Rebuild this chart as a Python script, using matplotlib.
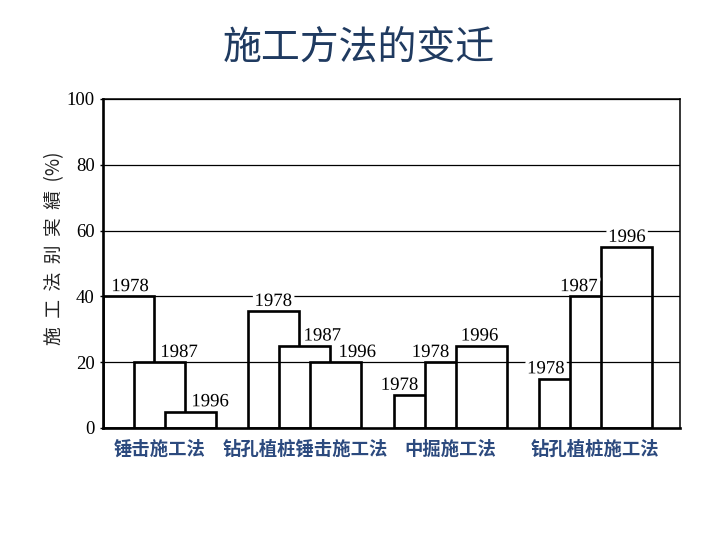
import matplotlib
matplotlib.use("Agg")
import matplotlib.pyplot as plt
import matplotlib.patheffects as pe
import numpy as np

# ---- data ----
categories = ['锤击施工法', '钻孔植桩锤击施工法', '中掘施工法', '钻孔植桩施工法']
share_first = [40, 35.5, 10, 15]
share_second = [20, 25, 20, 40]
share_third = [5, 20, 25, 55]
year_first = ['1978', '1978', '1978', '1978']
year_second = ['1987', '1987', '1978', '1987']
year_third = ['1996', '1996', '1996', '1996']
yticks = [0, 20, 40, 60, 80, 100]

# ---- layout ----
bar_step = 0.2133
bar_w = 0.351
label_dx = [[0.186, 0.31, 0.31],
            [0.172, 0.296, 0.323],
            [0.041, 0.041, 0.165],
            [0.048, 0.062, 0.179]]

CJK = ['Noto Sans CJK SC', 'DejaVu Sans']
SERIF = ['Liberation Serif', 'DejaVu Serif']

fig = plt.figure(figsize=(7.18, 5.36), dpi=100)
fig.patch.set_facecolor('white')
ax = fig.add_axes([0.1435, 0.2015, 0.8035, 0.6138])

series = [(share_first, year_first), (share_second, year_second), (share_third, year_third)]
groups = np.arange(len(categories))
for k, (vals, yrs) in enumerate(series):
    lefts = groups + k * bar_step
    ax.bar(lefts, vals, width=bar_w, align='edge', facecolor='white',
           edgecolor='black', linewidth=1.9, zorder=2 + k)
    for g in groups:
        t = ax.text(lefts[g] + label_dx[g][k], vals[g] + 1.6, yrs[g],
                    ha='center', va='baseline', fontsize=13.5, family=SERIF,
                    zorder=10)
        t.set_path_effects([pe.withStroke(linewidth=5, foreground='white')])

for yv in yticks[1:]:
    ax.axhline(yv, color='black', linewidth=0.9, zorder=6)

ax.set_xlim(0, 3.971)
ax.set_ylim(0, 100)
ax.set_yticks(yticks)
ax.set_yticklabels([str(v) for v in yticks], family=SERIF, fontsize=13.5)
ax.tick_params(axis='y', length=2, width=1, pad=4)

centers = groups + (2 * bar_step + bar_w) / 2
ax.set_xticks(centers)
ax.set_xticklabels(categories, family=CJK, fontsize=13.2, color='#2c4a7e', fontweight='bold')
ax.tick_params(axis='x', length=0, pad=8.5)

for side in ['left', 'bottom']:
    ax.spines[side].set_linewidth(1.9)
for side in ['right', 'top']:
    ax.spines[side].set_linewidth(1.1)
for s in ax.spines.values():
    s.set_zorder(8)

fig.text(0.5, 1 - 48 / 536, '施工方法的变迁', ha='center', va='center',
         fontsize=28, color='#1f3a60', family=CJK)
fig.text(55 / 718, 1 - 248 / 536, '施  工  法  别  実  績  (%)', rotation=90,
         ha='center', va='center', fontsize=13.5, color='#222222',
         family=['Noto Sans CJK JP', 'DejaVu Sans'])

fig.savefig('out.png', dpi=100, facecolor='white')
